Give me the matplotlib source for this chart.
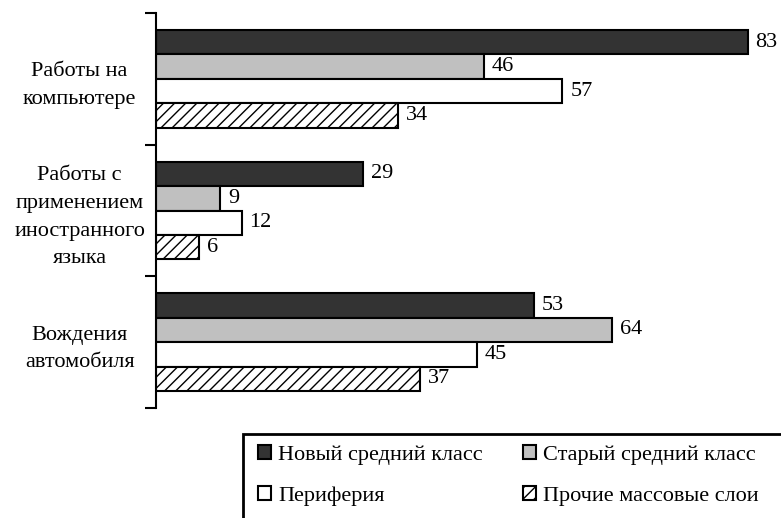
import numpy as np
import matplotlib.pyplot as plt
from matplotlib.patches import Rectangle, Patch

plt.rcParams['font.family'] = ['Liberation Serif', 'DejaVu Serif']
plt.rcParams['hatch.linewidth'] = 1.0

categories = ['Работы на\nкомпьютере',
              'Работы с\nприменением\nиностранного\nязыка',
              'Вождения\nавтомобиля']
series = ['Новый средний класс', 'Старый средний класс',
          'Периферия', 'Прочие массовые слои']
new_middle = [83, 29, 53]
old_middle = [46, 9, 64]
periphery = [57, 12, 45]
other_mass = [34, 6, 37]

values = [new_middle, old_middle, periphery, other_mass]
colors = ['#333333', '#c0c0c0', 'white', 'white']
hatches = [None, None, None, '///']

fig = plt.figure(figsize=(7.81, 5.18), dpi=100)
ax = fig.add_axes([156 / 781, 110 / 518, (762 - 156) / 781, 395 / 518])

h = 0.186
y = np.arange(len(categories))
for i, vals in enumerate(values):
    pos = y + (i - 1.5) * h
    bars = ax.barh(pos, vals, height=h, color=colors[i], hatch=hatches[i],
                   edgecolor='black', linewidth=1.5, label=series[i])
    for b, v in zip(bars, vals):
        ax.text(v + 1.1, b.get_y() + h / 2, str(v), va='center', ha='left',
                fontsize=16)

ax.set_xlim(0, 85)
ax.set_ylim(2.5, -0.5)
ax.set_yticks([-0.5, 0.5, 1.5, 2.5])
ax.set_yticklabels([])
ax.tick_params(axis='y', length=8, width=1.5, direction='out')
ax.set_yticks(y, minor=True)
ax.set_yticklabels(categories, minor=True, fontsize=16, ha='center',
                   multialignment='center', linespacing=1.62)
ax.tick_params(axis='y', which='minor', length=0, pad=55)
ax.set_xticks([])
for s in ['top', 'right', 'bottom']:
    ax.spines[s].set_visible(False)
ax.spines['left'].set_linewidth(1.5)

# legend box runs off the lower right edge
fig.patches.append(Rectangle((243 / 781, -0.05), 0.75, (518 - 434) / 518 + 0.05,
                             transform=fig.transFigure, fill=False,
                             edgecolor='black', linewidth=2))
order = [0, 2, 1, 3]
handles = [Patch(facecolor=colors[i], edgecolor='black', hatch=hatches[i],
                 linewidth=1.5) for i in order]
fig.legend(handles, [series[i] for i in order], loc='upper left',
           bbox_to_anchor=(258 / 781, 1 - 445 / 518), ncol=2, frameon=False,
           fontsize=16, handlelength=0.6, handleheight=0.6, handletextpad=0.3,
           columnspacing=1.8, labelspacing=0.95, borderaxespad=0, borderpad=0)

fig.savefig('out.png', dpi=100)
